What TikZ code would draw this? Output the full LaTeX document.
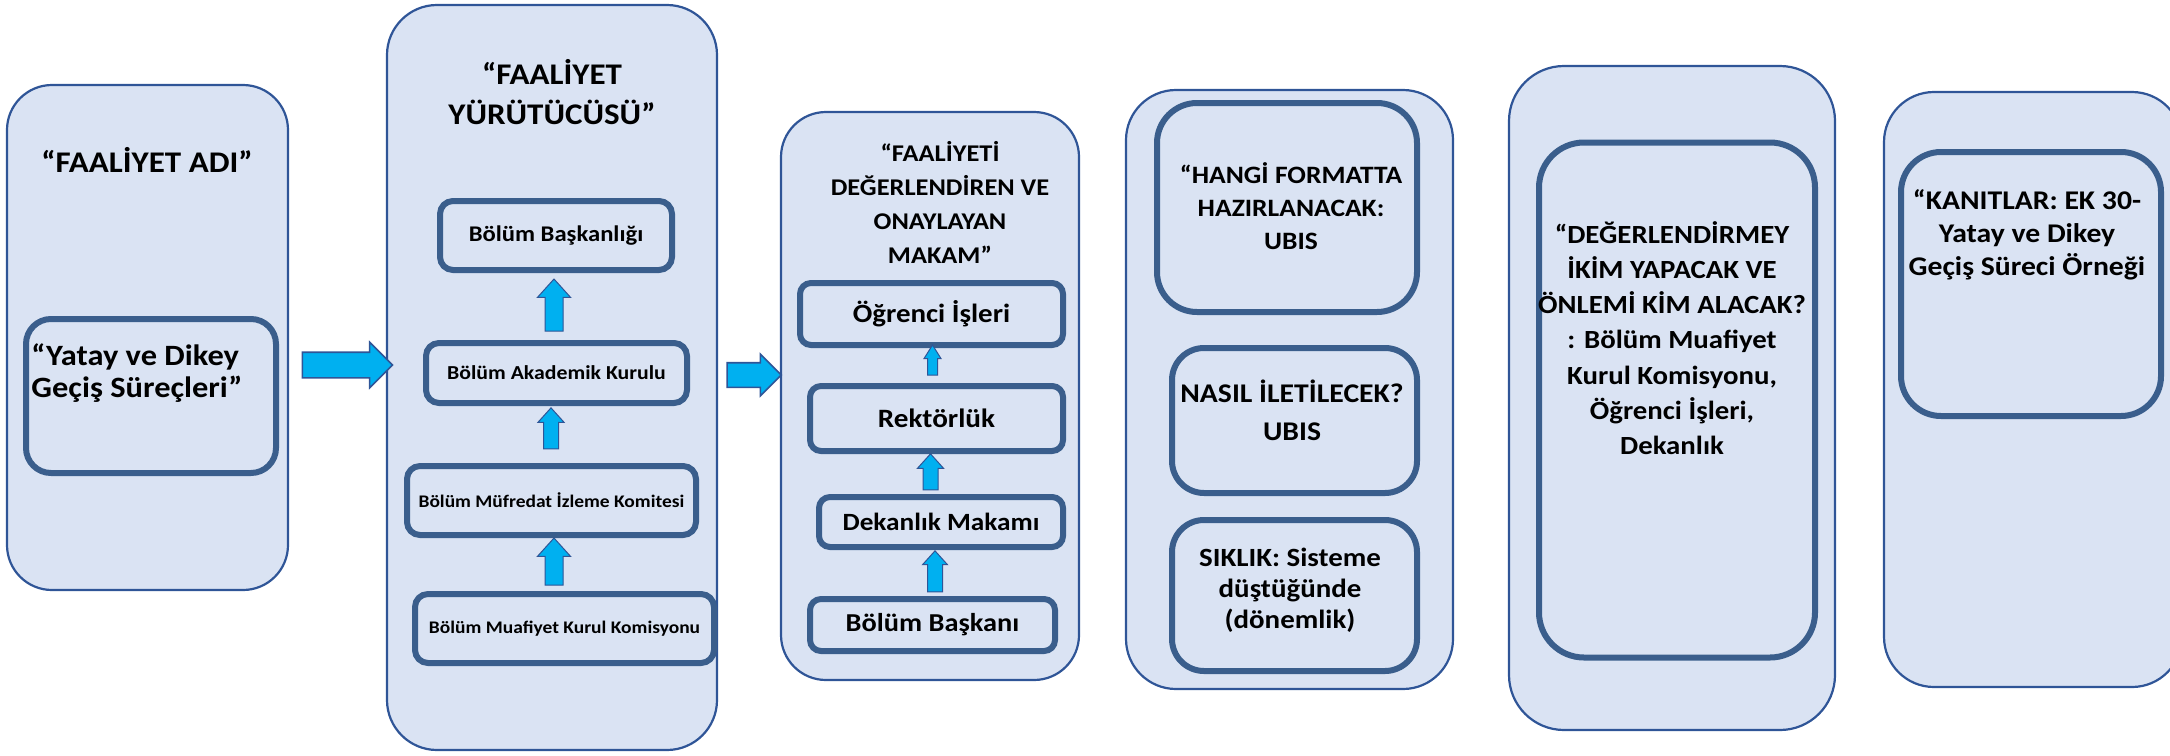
\documentclass[tikz,border=0pt]{standalone}
\usepackage{fontspec}
\setmainfont{Carlito}[FakeStretch=1.1]
\usetikzlibrary{shapes.arrows}
\definecolor{boxfill}{HTML}{DAE3F3}
\definecolor{outerline}{HTML}{2F5597}
\definecolor{innerline}{HTML}{3A5E8C}
\definecolor{arrowfill}{HTML}{00B0F0}
\definecolor{arrowline}{HTML}{2F5597}
\newcommand{\fsz}[2]{\fontsize{#1}{#2}\selectfont\bfseries}
\tikzset{
  outerbox/.style={draw=outerline, line width=2.2pt, fill=boxfill, rectangle, inner sep=0pt, outer sep=0pt},
  innerbox/.style={draw=innerline, line width=6pt, fill=boxfill, rectangle, inner sep=0pt, outer sep=0pt},
  txt/.style={align=center, inner sep=0pt, text=black},
  fatarrow/.style={single arrow, draw=arrowline, fill=arrowfill, line width=1.6pt, inner xsep=0pt, outer sep=0pt, minimum width=0pt, single arrow tip angle=90},
  uparrow/.style={single arrow, draw=arrowline, fill=arrowfill, line width=1pt, inner xsep=0pt, outer sep=0pt, minimum width=0pt, rotate=90, single arrow tip angle=84}
}
\begin{document}
\begin{tikzpicture}[x=1pt,y=-1pt]
\useasboundingbox (0,0) rectangle (2170,755);
% outer columns
\node[outerbox, rounded corners=45pt, minimum width=281pt, minimum height=505pt] (col1) at (147.5,337.5) {};
\node[outerbox, rounded corners=50pt, minimum width=330pt, minimum height=745pt] (col2) at (552,377.5) {};
\node[outerbox, rounded corners=45pt, minimum width=298pt, minimum height=568pt] (col3) at (930,396) {};
\node[outerbox, rounded corners=50pt, minimum width=327pt, minimum height=599pt] (col4) at (1289.5,389.5) {};
\node[outerbox, rounded corners=55pt, minimum width=326pt, minimum height=664pt] (col5) at (1672,398) {};
\node[outerbox, rounded corners=50pt, minimum width=298pt, minimum height=595pt] (col6) at (2033,389.5) {};
% column 1
\node[txt, font=\fsz{30}{35}] (t1) at (147,160) {“FAALİYET ADI”};
\node[innerbox, rounded corners=25pt, minimum width=250pt, minimum height=154pt] (a1) at (151,396) {};
\node[txt, align=left, font=\fsz{29.5}{32}] (a1t) at (137,373) {“Yatay ve Dikey\\Geçiş Süreçleri”};
% column 2
\node[txt, font=\fsz{30}{40}] (t2) at (552,92) {“FAALİYET\\YÜRÜTÜCÜSÜ”};
\node[innerbox, rounded corners=13pt, minimum width=232pt, minimum height=69pt, font=\fsz{22.4}{26}] (b1) at (556,235.5) {Bölüm Başkanlığı};
\node[innerbox, rounded corners=13pt, minimum width=261pt, minimum height=60pt, font=\fsz{19.8}{25}] (b2) at (556.5,373) {Bölüm Akademik Kurulu};
\node[innerbox, rounded corners=13pt, minimum width=289pt, minimum height=69pt, font=\fsz{17.7}{22}] (b3) at (551.5,500.5) {Bölüm Müfredat İzleme Komitesi};
\node[innerbox, rounded corners=13pt, minimum width=299pt, minimum height=69pt, font=\fsz{17.7}{22}] (b4) at (564.5,628.5) {Bölüm Muafiyet Kurul Komisyonu};
\node[uparrow, minimum height=52pt, inner ysep=8.5pt, single arrow head extend=7.5pt] (u21) at (554,310) {};
\node[uparrow, minimum height=41pt, inner ysep=7pt, single arrow head extend=5.5pt] (u22) at (551,432.5) {};
\node[uparrow, minimum height=47pt, inner ysep=8.5pt, single arrow head extend=7.5pt] (u23) at (554,566.5) {};
% column 3
\node[txt, font=\fsz{24}{34}] (t3) at (940,202) {“FAALİYETİ\\DEĞERLENDİREN VE\\ONAYLAYAN\\MAKAM”};
\node[innerbox, rounded corners=11pt, minimum width=263pt, minimum height=62pt, font=\fsz{26.3}{31}] (c1) at (931.5,314) {Öğrenci İşleri};
\node[innerbox, rounded corners=11pt, minimum width=253pt, minimum height=65pt, font=\fsz{26.5}{31}] (c2) at (936.5,418.5) {Rektörlük};
\node[innerbox, rounded corners=11pt, minimum width=244pt, minimum height=50pt, font=\fsz{24.8}{31}] (c3) at (941,522) {Dekanlık Makamı};
\node[innerbox, rounded corners=11pt, minimum width=245pt, minimum height=52pt, font=\fsz{25.8}{31}] (c4) at (932.5,625) {Bölüm Başkanı};
\node[uparrow, minimum height=30pt, inner ysep=4.5pt, single arrow head extend=3.5pt, single arrow tip angle=64] (u31) at (932.5,364) {};
\node[uparrow, minimum height=36pt, inner ysep=7pt, single arrow head extend=5.5pt] (u32) at (930.5,476) {};
\node[uparrow, minimum height=41pt, inner ysep=7pt, single arrow head extend=5pt] (u33) at (935,575.5) {};
% column 4
\node[innerbox, rounded corners=40pt, minimum width=260pt, minimum height=209pt] (d1) at (1287,207.5) {};
\node[innerbox, rounded corners=32pt, minimum width=245pt, minimum height=145pt] (d2) at (1294.5,420.5) {};
\node[innerbox, rounded corners=32pt, minimum width=245pt, minimum height=151pt] (d3) at (1294.5,595.5) {};
\node[txt, font=\fsz{25}{33}] (d1t) at (1291,206) {“HANGİ FORMATTA\\HAZIRLANACAK:\\UBIS};
\node[txt, font=\fsz{27}{38}] (d2t) at (1292,410) {NASIL İLETİLECEK?\\UBIS};
\node[txt, font=\fsz{26.3}{31}] (d3t) at (1290,590) {SIKLIK: Sisteme\\düştüğünde\\(dönemlik)};
% column 5
\node[innerbox, rounded corners=45pt, minimum width=276pt, minimum height=515pt] (e1) at (1677,400) {};
\node[txt, font=\fsz{26.2}{35.2}] (e1t) at (1672,338) {“DEĞERLENDİRMEY\\İKİM YAPACAK VE\\ÖNLEMİ KİM ALACAK?\\: Bölüm Muafiyet\\Kurul Komisyonu,\\Öğrenci İşleri,\\Dekanlık};
% column 6
\node[innerbox, rounded corners=40pt, minimum width=260pt, minimum height=264pt] (f1) at (2031,284) {};
\node[txt, font=\fsz{27}{33}] (f1t) at (2027,235) {“KANITLAR: EK 30-\\Yatay ve Dikey\\Geçiş Süreci Örneği};
% horizontal block arrows
\node[fatarrow, minimum height=90pt, inner ysep=12pt, single arrow head extend=10pt] (h1) at (341,365) {};
\node[fatarrow, minimum height=54pt, inner ysep=11.5pt, single arrow head extend=8.5pt] (h2) at (748,375) {};
\end{tikzpicture}
\end{document}
